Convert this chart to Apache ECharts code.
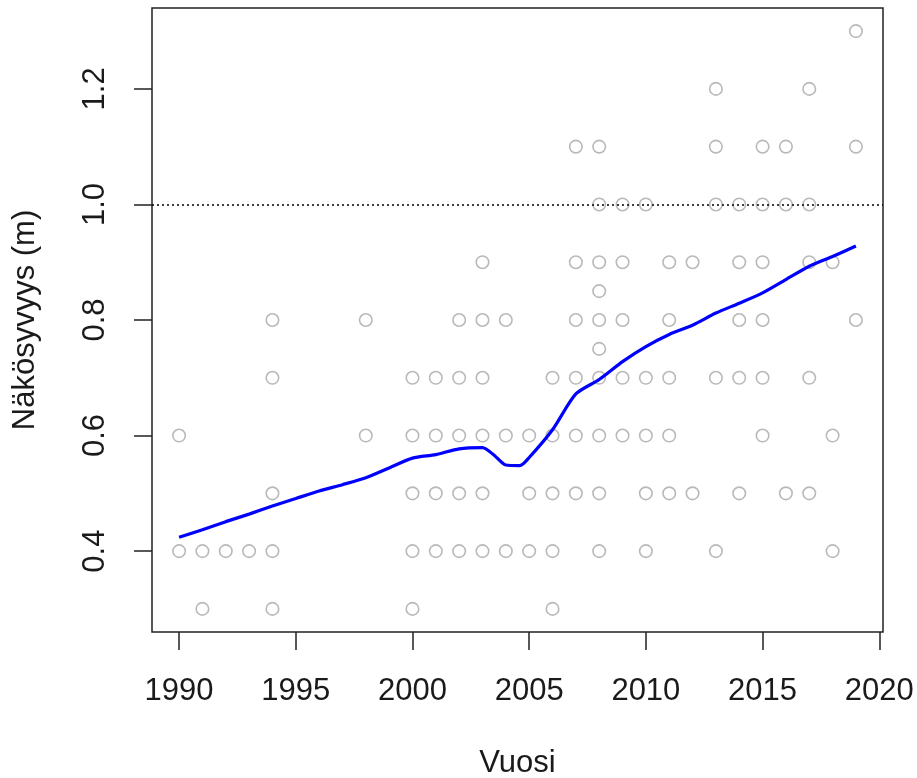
<!DOCTYPE html>
<html>
<head>
<meta charset="utf-8">
<script src="https://cdn.jsdelivr.net/npm/echarts@6/dist/echarts.min.js"></script>
<style>
  html, body { margin: 0; padding: 0; background: #fff; }
  #chart { width: 917px; height: 778px; }
</style>
</head>
<body>
<div id="chart"></div>
<script>
// Secchi depth observations: one entry per measurement (year, depth in m)
const pointYears = [
  1990, 1990,
  1991, 1991,
  1992,
  1993,
  1994, 1994, 1994, 1994, 1994,
  1998, 1998,
  2000, 2000, 2000, 2000, 2000,
  2001, 2001, 2001, 2001,
  2002, 2002, 2002, 2002, 2002,
  2003, 2003, 2003, 2003, 2003, 2003,
  2004, 2004, 2004,
  2005, 2005, 2005,
  2006, 2006, 2006, 2006, 2006,
  2007, 2007, 2007, 2007, 2007, 2007,
  2008, 2008, 2008, 2008, 2008, 2008, 2008, 2008, 2008, 2008,
  2009, 2009, 2009, 2009, 2009,
  2010, 2010, 2010, 2010, 2010,
  2011, 2011, 2011, 2011, 2011,
  2012, 2012,
  2013, 2013, 2013, 2013, 2013,
  2014, 2014, 2014, 2014, 2014,
  2015, 2015, 2015, 2015, 2015, 2015,
  2016, 2016, 2016,
  2017, 2017, 2017, 2017, 2017,
  2018, 2018, 2018,
  2019, 2019, 2019
];
const pointValues = [
  0.6, 0.4,
  0.4, 0.3,
  0.4,
  0.4,
  0.8, 0.7, 0.5, 0.4, 0.3,
  0.8, 0.6,
  0.7, 0.6, 0.5, 0.4, 0.3,
  0.7, 0.6, 0.5, 0.4,
  0.8, 0.7, 0.6, 0.5, 0.4,
  0.9, 0.8, 0.7, 0.6, 0.5, 0.4,
  0.8, 0.6, 0.4,
  0.6, 0.5, 0.4,
  0.7, 0.6, 0.5, 0.4, 0.3,
  1.1, 0.9, 0.8, 0.7, 0.6, 0.5,
  1.1, 1.0, 0.9, 0.85, 0.8, 0.75, 0.7, 0.6, 0.5, 0.4,
  1.0, 0.9, 0.8, 0.7, 0.6,
  1.0, 0.7, 0.6, 0.5, 0.4,
  0.9, 0.8, 0.7, 0.6, 0.5,
  0.9, 0.5,
  1.2, 1.1, 1.0, 0.7, 0.4,
  1.0, 0.9, 0.8, 0.7, 0.5,
  1.1, 1.0, 0.9, 0.8, 0.7, 0.6,
  1.1, 1.0, 0.5,
  1.2, 1.0, 0.9, 0.7, 0.5,
  0.9, 0.6, 0.4,
  1.3, 1.1, 0.8
];

// Smoothed trend (lowess-type curve)
const trendYears = [
  1990, 1991, 1992, 1993, 1994, 1995, 1996, 1997, 1998, 1999,
  2000, 2001, 2002, 2003, 2003.5, 2004, 2004.6, 2005, 2006, 2007,
  2008, 2009, 2010, 2011, 2012, 2013, 2014, 2015, 2016, 2017,
  2018, 2019
];
const trendValues = [
  0.424, 0.437, 0.451, 0.464, 0.478, 0.491, 0.504, 0.515, 0.527, 0.544,
  0.561, 0.567, 0.577, 0.579, 0.566, 0.549, 0.548, 0.562, 0.610, 0.672,
  0.697, 0.728, 0.754, 0.775, 0.791, 0.812, 0.829, 0.847, 0.870, 0.893,
  0.910, 0.928
];

const xTicks = [1990, 1995, 2000, 2005, 2010, 2015, 2020];
const yTicks = [0.4, 0.6, 0.8, 1.0, 1.2];
const referenceDepth = 1.0;

const xLabel = 'Vuosi';
const yLabel = 'Näkösyvyys (m)';

const FONT = '"Liberation Sans", Arial, sans-serif';
const INK = '#1a1a1a';
const FS = 31;

const chart = echarts.init(document.getElementById('chart'), null, { renderer: 'canvas' });

chart.setOption({
  animation: false,
  backgroundColor: '#ffffff',
  grid: {
    left: 152, top: 8, right: 34, bottom: 146,
    outerBoundsMode: 'none',
    containLabel: false,
    show: true,
    borderColor: '#222',
    borderWidth: 1.5,
    backgroundColor: 'transparent'
  },
  xAxis: {
    type: 'value',
    min: 1988.84,
    max: 2020.16,
    name: xLabel,
    nameLocation: 'middle',
    nameGap: 116,
    nameTextStyle: { fontFamily: FONT, fontSize: FS, color: INK },
    axisLine: { show: false },
    splitLine: { show: false },
    axisTick: {
      show: true, inside: false, length: 18,
      customValues: xTicks,
      lineStyle: { color: '#222', width: 1.5 }
    },
    axisLabel: {
      show: true,
      customValues: xTicks,
      margin: 44,
      fontFamily: FONT, fontSize: FS, color: INK,
      formatter: v => String(Math.round(v))
    }
  },
  yAxis: {
    type: 'value',
    min: 0.26,
    max: 1.34,
    name: yLabel,
    nameLocation: 'middle',
    nameGap: 111,
    nameRotate: 90,
    nameTextStyle: { fontFamily: FONT, fontSize: FS, color: INK },
    axisLine: { show: false },
    splitLine: { show: false },
    axisTick: {
      show: true, inside: false, length: 18,
      customValues: yTicks,
      lineStyle: { color: '#222', width: 1.5 }
    },
    axisLabel: {
      show: true,
      customValues: yTicks,
      rotate: 90,
      margin: 41,
      fontFamily: FONT, fontSize: FS, color: INK,
      formatter: v => v.toFixed(1)
    }
  },
  series: [
    {
      type: 'scatter',
      name: 'havainnot',
      symbol: 'circle',
      symbolSize: 12.5,
      itemStyle: { color: 'rgba(255,255,255,0)', borderColor: '#a8a8a8', borderWidth: 1.6 },
      data: pointYears.map((y, i) => [y, pointValues[i]]),
      z: 2,
      markLine: {
        silent: true,
        symbol: 'none',
        label: { show: false },
        lineStyle: { color: '#000', type: [2, 3], width: 1.5 },
        data: [{ yAxis: referenceDepth }]
      }
    },
    {
      type: 'line',
      name: 'trendi',
      data: trendYears.map((y, i) => [y, trendValues[i]]),
      showSymbol: false,
      smooth: 0.25,
      lineStyle: { color: '#0000ff', width: 3.2 },
      z: 3
    }
  ]
});
</script>
</body>
</html>
